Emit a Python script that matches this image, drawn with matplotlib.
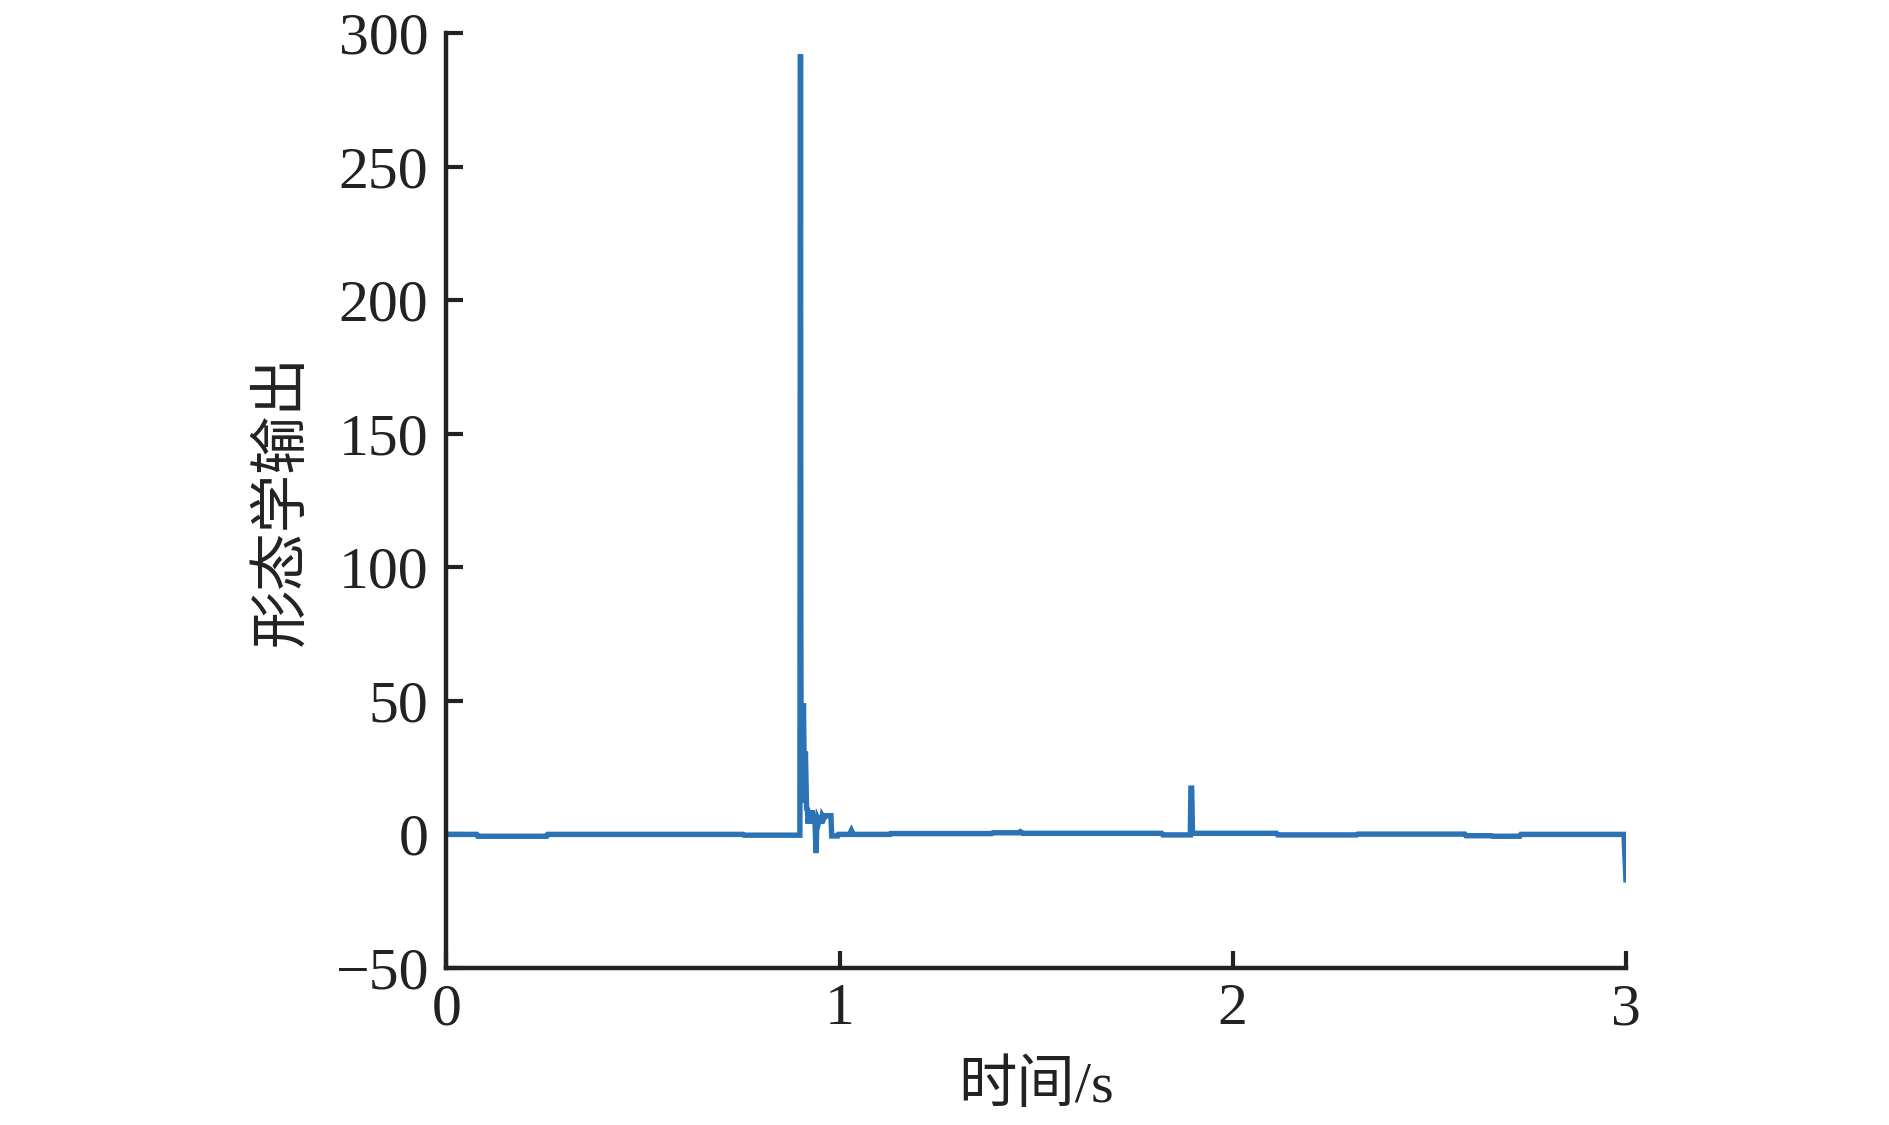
import matplotlib
matplotlib.use("Agg")
import matplotlib.pyplot as plt

# ---- data ----
time_s = [0.000, 0.077, 0.080, 0.255, 0.258, 0.754, 0.757, 0.8990,
          0.9005, 0.9015, 0.9025, 0.9040, 0.9060, 0.9080, 0.9110, 0.9130,
          0.9160, 0.9180, 0.9200, 0.9230, 0.9260, 0.9300, 0.9340, 0.9370,
          0.9400, 0.9420, 0.9440, 0.9470, 0.9500, 0.9530, 0.9560, 0.9600,
          0.9630, 0.9700, 0.9780, 0.9800, 0.9950, 0.9970, 1.0250, 1.0300,
          1.0350, 1.1280, 1.1300, 1.3870, 1.3900, 1.4560, 1.4600, 1.4650,
          1.7100, 1.7130, 1.8190, 1.8220, 1.8920, 1.8935, 1.8955, 1.8975,
          2.1110, 2.1140, 2.3150, 2.3180, 2.5900, 2.5930, 2.6580, 2.6610,
          2.7300, 2.7330, 2.9950, 3.0000]
morph_out = [0.0, 0.0, -0.7, -0.7, 0.0, 0.0, -0.3, -0.3,
             292.0, 73.0, 13.0, 48.0, 20.0, 49.0, 12.0, 31.0,
             9.0, 10.0, 4.0, 9.0, 5.0, 9.0, 4.0, 7.0,
             -7.0, 3.0, 6.0, 5.0, 7.0, 4.0, 7.0, 6.0,
             7.0, 7.0, 7.0, -0.6, -0.6, 0.0, 0.0, 1.5,
             0.0, 0.0, 0.3, 0.3, 0.6, 0.6, 1.0, 0.4,
             0.4, 0.4, 0.4, -0.2, -0.2, 17.3, 17.3, 0.4,
             0.4, -0.2, -0.2, 0.1, 0.1, -0.5, -0.5, -0.7,
             -0.7, 0.0, 0.0, -17.0]

x_ticks = [0, 1, 2, 3]
y_ticks = [-50, 0, 50, 100, 150, 200, 250, 300]
x_label = "时间/s"
y_label = "形态学输出"

# ---- style ----
plt.rcParams['font.family'] = ['Liberation Serif', 'Noto Sans CJK SC', 'DejaVu Sans']
plt.rcParams['axes.unicode_minus'] = True

fig = plt.figure(figsize=(18.9, 11.25), dpi=100)
ax = fig.add_axes([0.2362, 0.1396, 0.8603 - 0.2362, 0.9707 - 0.1396])

ax.plot(time_s, morph_out, color='#2b73b4', linewidth=3.9,
        solid_joinstyle='miter')

ax.set_xlim(0, 3)
ax.set_ylim(-50, 300)
ax.set_xticks(x_ticks)
ax.set_yticks(y_ticks)

for s in ['top', 'right']:
    ax.spines[s].set_visible(False)
for s in ['left', 'bottom']:
    ax.spines[s].set_linewidth(3.2)
    ax.spines[s].set_color('#222222')

ax.tick_params(axis='both', direction='in', length=12, width=3.0,
               color='#222222', labelsize=43, labelcolor='#222222')
ax.tick_params(axis='x', pad=11)
ax.tick_params(axis='y', pad=13)

ax.set_xlabel(x_label, fontsize=42, color='#222222', labelpad=17,
              family=['Liberation Serif', 'Noto Sans CJK SC'])
ax.set_ylabel(y_label, fontsize=42, color='#222222', labelpad=17,
              family=['Noto Sans CJK SC', 'Liberation Serif'])

fig.savefig('out.png', dpi=100)
